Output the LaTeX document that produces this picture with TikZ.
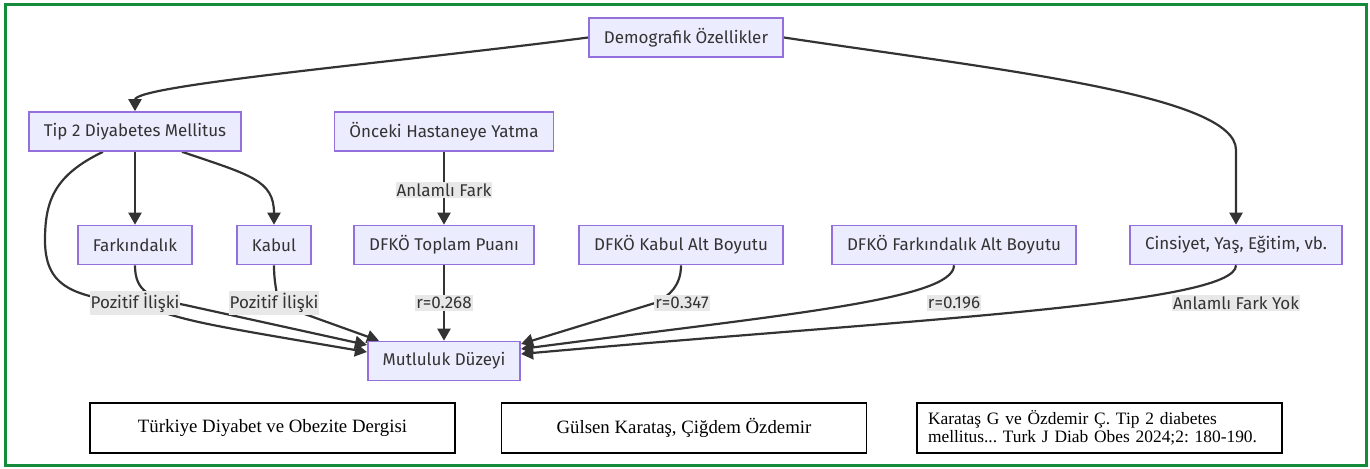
\documentclass[tikz,border=0pt]{standalone}
\usepackage{fontspec}
\setmainfont{Liberation Serif}
\newfontfamily\flowfont{Fira Sans}
\usepackage{xcolor}
\usetikzlibrary{arrows.meta, calc, backgrounds}

\definecolor{boxfill}{HTML}{ECECFF}
\definecolor{boxline}{HTML}{9370DB}
\definecolor{edgegray}{HTML}{333333}
\definecolor{labelfill}{HTML}{E8E8E8}
\definecolor{framegreen}{RGB}{20,140,60}

\begin{document}
\frenchspacing
\begin{tikzpicture}[x=0.5pt, y=-0.5pt,
    box/.style={draw=boxline, fill=boxfill, line width=0.8pt, minimum height=19.5pt,
        inner xsep=7.5pt, text=edgegray, font=\flowfont\fontsize{8.5}{10}\selectfont},
    elabel/.style={fill=labelfill, inner xsep=0.5pt, inner ysep=1pt, text=edgegray,
        font=\flowfont\fontsize{8.5}{10}\selectfont},
    refbox/.style={draw=black, line width=0.7pt, minimum width=182.5pt, minimum height=25pt,
        font=\fontsize{9.4}{9.4}\selectfont},
    edge/.style={draw=edgegray, line width=1.1pt, -{Triangle[length=6pt,width=6.5pt]}}]
    \useasboundingbox (0,0) rectangle (1370,469);
    % outer frame
    \draw[framegreen, line width=1.5pt] (5,4.5) rectangle (1366,465.5);

    % Flowchart boxes
    \node[box] (demo) at (686,37.5) {Demografik Özellikler};
    \node[box] (tip) at (135,131.5) {Tip 2 Diyabetes Mellitus};
    \node[box] (once) at (444,131.5) {Önceki Hastaneye Yatma};
    \node[box] (fark) at (135,245) {Farkındalık};
    \node[box] (kabul) at (274,245) {Kabul};
    \node[box] (toplam) at (444,245) {DFKÖ Toplam Puanı};
    \node[box] (kabulalt) at (681,245) {DFKÖ Kabul Alt Boyutu};
    \node[box] (farkalt) at (954,245) {DFKÖ Farkındalık Alt Boyutu};
    \node[box] (cins) at (1236,245) {Cinsiyet, Yaş, Eğitim, vb.};
    \node[box] (mutlu) at (444,361) {Mutluluk Düzeyi};

    % Edge labels
    \node[elabel] (lfark) at (444,190) {Anlamlı Fark};
    \foreach \n/\x/\t in {lpoz1/135/Pozitif İlişki, lpoz2/274/Pozitif İlişki,
                          lr1/444/r=0.268, lr2/682/r=0.347, lr3/954/r=0.196,
                          lyok/1236/Anlamlı Fark Yok} {
        \node[elabel] (\n) at (\x,303) {\t};
    }

    % Connectors (behind boxes and labels)
    \begin{pgfonlayer}{background}
        \draw[edge] (demo.west) .. controls (400,62) and (135,85) .. (tip.north);
        \draw[edge] (demo.east) .. controls (1000,70) and (1236,95) .. (1236,150) -- (cins.north);
        \draw[edge] (tip) -- (fark);
        \draw[edge] ($(tip.south)+(47,0)$) .. controls (250,175) and (274,180) .. (kabul.north);
        \draw[edge] ($(tip.south)+(-32,0)$) .. controls (55,175) and (45,200) .. (45,240)
            .. controls (45,285) and (70,297) .. (lpoz1.center)
            .. controls (190,322) .. ($(mutlu.west)+(0,-9)$);
        \draw[edge] (fark.south) .. controls (135,292) and (150,298) .. (185,305)
            -- ($(mutlu.west)+(0,-16)$);
        \draw[edge] (kabul.south) .. controls (274,290) and (280,295) .. (lpoz2.center)
            -- ($(mutlu.north west)+(12,0)$);
        \draw[edge] (once) -- (toplam);
        \draw[edge] (toplam) -- (mutlu);
        \draw[edge] (kabulalt.south) .. controls (681,285) and (670,296) .. (655,303)
            -- ($(mutlu.east)+(0,-17)$);
        \draw[edge] (farkalt.south) .. controls (954,300) and (780,315) .. ($(mutlu.east)+(0,-12)$);
        \draw[edge] (cins.south) .. controls (1236,305) and (900,320) .. ($(mutlu.east)+(0,-7)$);
    \end{pgfonlayer}

    % Reference boxes
    \node[refbox] (dergi) at (272.5,428) {Türkiye Diyabet ve Obezite Dergisi};
    \node[refbox] (yazar) at (684,428) {Gülsen Karataş, Çiğdem Özdemir};
    \node[refbox, text width=171.5pt, inner xsep=5.5pt, align=left,
          font=\fontsize{8.7}{9.2}\selectfont] (atif) at (1099.5,428)
        {\mbox{Karataş G ve Özdemir Ç. Tip 2 diabetes}\\
         \mbox{mellitus... Turk J Diab Obes 2024;2: 180-190.}};
\end{tikzpicture}
\end{document}
